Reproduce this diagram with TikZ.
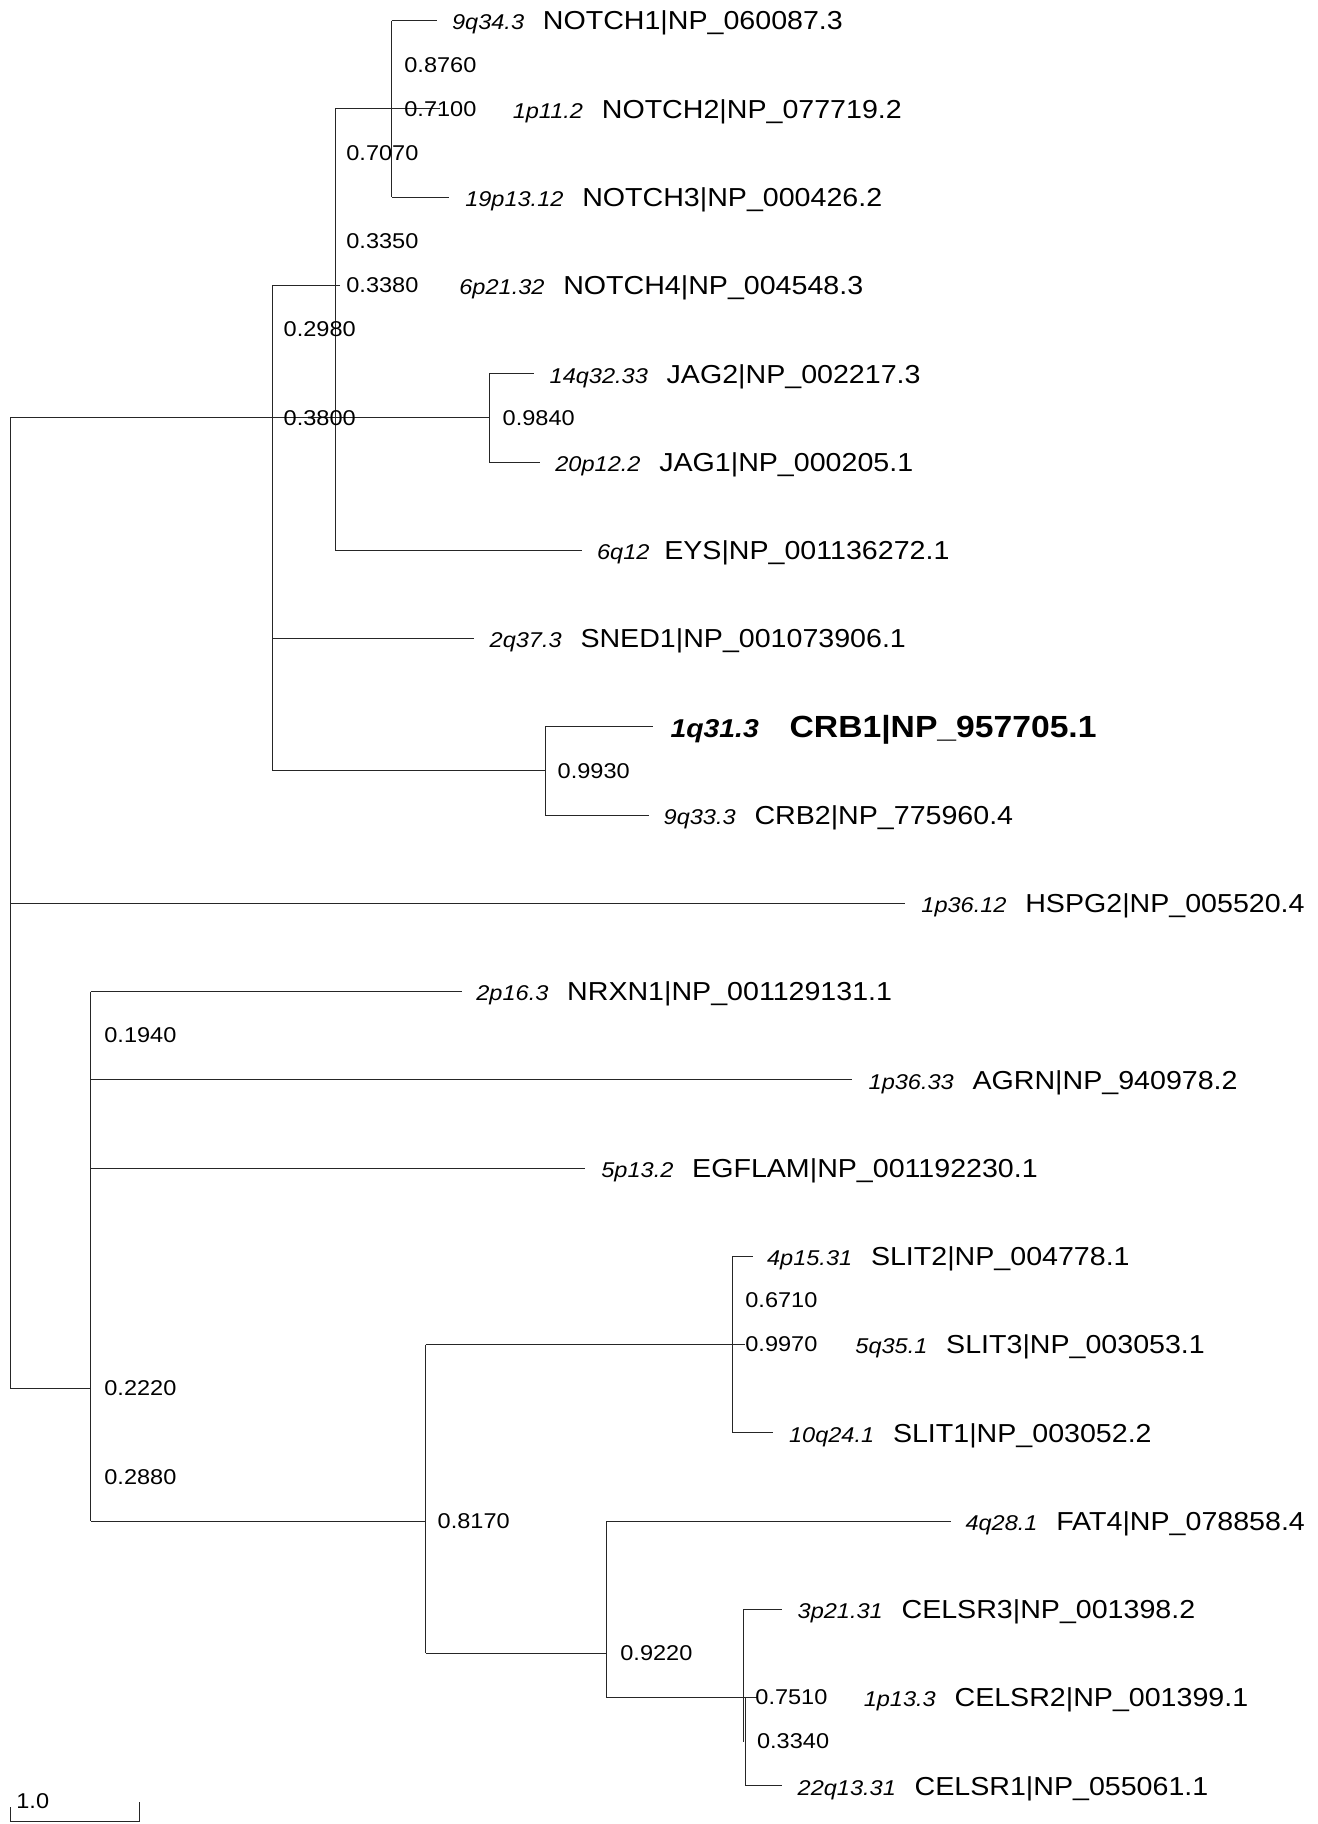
\documentclass[tikz,border=0pt]{standalone}
\usepackage{fontspec}
\setmainfont[FakeStretch=1.1]{Liberation Sans}
\usepackage{tikz}
\usetikzlibrary{positioning}

\begin{document}
\begin{tikzpicture}[
    x=0.5pt, y=-0.5pt,
    branch/.style={draw=black!85, line width=0.5pt},
    locus/.style={inner sep=0pt, anchor=base west, yshift=-4.65pt, font=\fontsize{10.7}{13}\selectfont\itshape},
    gene/.style={inner sep=0pt, font=\fontsize{13}{15}\selectfont},
    boot/.style={inner sep=0pt, anchor=west, font=\fontsize{10.7}{13}\selectfont}
]
    \useasboundingbox (0,0) rectangle (1317,1824);

    % inner nodes, top and bottom of each vertical
    \coordinate (rootT) at (10,417.8);       \coordinate (rootB) at (10,1388.6);
    \coordinate (notchAllT) at (272.7,285.5); \coordinate (notchAllB) at (272.7,770.8);
    \coordinate (notchEysT) at (335,109.0);   \coordinate (notchEysB) at (335,550.2);
    \coordinate (notchT) at (391.7,20.7);     \coordinate (notchB) at (391.7,197.2);
    \coordinate (jagT) at (489.3,373.7);      \coordinate (jagB) at (489.3,462.0);
    \coordinate (crbT) at (545,726.7);        \coordinate (crbB) at (545,815.0);
    \coordinate (lowT) at (90.7,991.5);       \coordinate (lowB) at (90.7,1521.0);
    \coordinate (slitFatT) at (425.7,1344.5); \coordinate (slitFatB) at (425.7,1653.3);
    \coordinate (slitT) at (732.7,1256.2);    \coordinate (slitB) at (732.7,1432.7);
    \coordinate (fatT) at (606.7,1521.0);     \coordinate (fatB) at (606.7,1697.5);
    \coordinate (celsrT) at (743,1609.2);     \coordinate (celsrB) at (743,1741.6);
    \coordinate (celsrlT) at (745.3,1697.5);  \coordinate (celsrlB) at (745.3,1785.7);

    \foreach \n in {root,notchAll,notchEys,notch,jag,crb,low,slitFat,slit,fat,celsr,celsrl}
        \draw[branch] (\n T) -- (\n B);

    \draw[branch] (rootT) -- (jagT |- rootT);
    \draw[branch] (notchAllB) -- (crbT |- notchAllB);
    \draw[branch] (rootB) -- (lowT |- rootB);
    \draw[branch] (lowB) -- (slitFatT |- lowB);
    \draw[branch] (slitFatB) -- (fatT |- slitFatB);

    % leaf tips
    \coordinate (tipNotch1) at (436.7,20.7);
    \coordinate (tipNotch2) at (440,109.0);
    \coordinate (tipNotch3) at (449.3,197.2);
    \coordinate (tipNotch4) at (340,285.5);
    \coordinate (tipJag2) at (534.3,373.7);
    \coordinate (tipJag1) at (540,462.0);
    \coordinate (tipEys) at (581.7,550.2);
    \coordinate (tipSned1) at (474.3,638.5);
    \coordinate (tipCrb1) at (652.7,726.7);
    \coordinate (tipCrb2) at (649.3,815.0);
    \coordinate (tipHspg2) at (905,903.2);
    \coordinate (tipNrxn1) at (462,991.5);
    \coordinate (tipAgrn) at (852.3,1079.7);
    \coordinate (tipEgflam) at (585,1168.0);
    \coordinate (tipSlit2) at (752.7,1256.2);
    \coordinate (tipSlit3) at (745,1344.5);
    \coordinate (tipSlit1) at (772.7,1432.7);
    \coordinate (tipFat4) at (950.7,1521.0);
    \coordinate (tipCelsr3) at (781.7,1609.2);
    \coordinate (tipCelsr2) at (757,1697.5);
    \coordinate (tipCelsr1) at (781.7,1785.7);

    \draw[branch] (notchT) -- (tipNotch1);
    \draw[branch] (notchEysT) -- (tipNotch2);
    \draw[branch] (notchB) -- (tipNotch3);
    \draw[branch] (notchAllT) -- (tipNotch4);
    \draw[branch] (jagT) -- (tipJag2);
    \draw[branch] (jagB) -- (tipJag1);
    \draw[branch] (notchEysB) -- (tipEys);
    \draw[branch] (tipSned1 -| notchAllT) -- (tipSned1);
    \draw[branch] (crbT) -- (tipCrb1);
    \draw[branch] (crbB) -- (tipCrb2);
    \draw[branch] (tipHspg2 -| rootT) -- (tipHspg2);
    \draw[branch] (lowT) -- (tipNrxn1);
    \draw[branch] (tipAgrn -| lowT) -- (tipAgrn);
    \draw[branch] (tipEgflam -| lowT) -- (tipEgflam);
    \draw[branch] (slitT) -- (tipSlit2);
    \draw[branch] (slitFatT) -- (tipSlit3);
    \draw[branch] (slitB) -- (tipSlit1);
    \draw[branch] (fatT) -- (tipFat4);
    \draw[branch] (celsrT) -- (tipCelsr3);
    \draw[branch] (fatB) -- (tipCelsr2);
    \draw[branch] (celsrlB) -- (tipCelsr1);

    % leaf labels
    \node[locus] (locNotch1) at ([xshift=7.5pt]tipNotch1) {9q34.3};
    \node[gene, base right=9pt of locNotch1] (geneNotch1) {NOTCH1|NP\_060087.3};
    \node[locus] (locNotch2) at ([xshift=36.2pt]tipNotch2) {1p11.2};
    \node[gene, base right=9pt of locNotch2] (geneNotch2) {NOTCH2|NP\_077719.2};
    \node[locus] (locNotch3) at ([xshift=7.8pt]tipNotch3) {19p13.12};
    \node[gene, base right=9pt of locNotch3] (geneNotch3) {NOTCH3|NP\_000426.2};
    \node[locus] (locNotch4) at ([xshift=59.5pt]tipNotch4) {6p21.32};
    \node[gene, base right=9pt of locNotch4] (geneNotch4) {NOTCH4|NP\_004548.3};
    \node[locus] (locJag2) at ([xshift=7.5pt]tipJag2) {14q32.33};
    \node[gene, base right=9pt of locJag2] (geneJag2) {JAG2|NP\_002217.3};
    \node[locus] (locJag1) at ([xshift=7.5pt]tipJag1) {20p12.2};
    \node[gene, base right=9pt of locJag1] (geneJag1) {JAG1|NP\_000205.1};
    \node[locus] (locEys) at ([xshift=7.5pt]tipEys) {6q12};
    \node[gene, base right=7pt of locEys] (geneEys) {EYS|NP\_001136272.1};
    \node[locus] (locSned1) at ([xshift=7.5pt]tipSned1) {2q37.3};
    \node[gene, base right=9pt of locSned1] (geneSned1) {SNED1|NP\_001073906.1};
    \node[locus, yshift=-0.85pt, font=\fontsize{12.9}{15}\selectfont\bfseries\itshape] (locCrb1) at ([xshift=8.7pt]tipCrb1) {1q31.3};
    \node[gene, base right=15pt of locCrb1, font=\fontsize{15.3}{18}\selectfont\bfseries] (geneCrb1) {CRB1|NP\_957705.1};
    \node[locus] (locCrb2) at ([xshift=7pt]tipCrb2) {9q33.3};
    \node[gene, base right=9pt of locCrb2] (geneCrb2) {CRB2|NP\_775960.4};
    \node[locus] (locHspg2) at ([xshift=8pt]tipHspg2) {1p36.12};
    \node[gene, base right=9pt of locHspg2] (geneHspg2) {HSPG2|NP\_005520.4};
    \node[locus] (locNrxn1) at ([xshift=7pt]tipNrxn1) {2p16.3};
    \node[gene, base right=9pt of locNrxn1] (geneNrxn1) {NRXN1|NP\_001129131.1};
    \node[locus] (locAgrn) at ([xshift=8pt]tipAgrn) {1p36.33};
    \node[gene, base right=9pt of locAgrn] (geneAgrn) {AGRN|NP\_940978.2};
    \node[locus] (locEgflam) at ([xshift=8pt]tipEgflam) {5p13.2};
    \node[gene, base right=9pt of locEgflam] (geneEgflam) {EGFLAM|NP\_001192230.1};
    \node[locus] (locSlit2) at ([xshift=7pt]tipSlit2) {4p15.31};
    \node[gene, base right=9pt of locSlit2] (geneSlit2) {SLIT2|NP\_004778.1};
    \node[locus] (locSlit3) at ([xshift=55pt]tipSlit3) {5q35.1};
    \node[gene, base right=9pt of locSlit3] (geneSlit3) {SLIT3|NP\_003053.1};
    \node[locus] (locSlit1) at ([xshift=8pt]tipSlit1) {10q24.1};
    \node[gene, base right=9pt of locSlit1] (geneSlit1) {SLIT1|NP\_003052.2};
    \node[locus] (locFat4) at ([xshift=7.2pt]tipFat4) {4q28.1};
    \node[gene, base right=9pt of locFat4] (geneFat4) {FAT4|NP\_078858.4};
    \node[locus] (locCelsr3) at ([xshift=7.8pt]tipCelsr3) {3p21.31};
    \node[gene, base right=9pt of locCelsr3] (geneCelsr3) {CELSR3|NP\_001398.2};
    \node[locus] (locCelsr2) at ([xshift=53.2pt]tipCelsr2) {1p13.3};
    \node[gene, base right=9pt of locCelsr2] (geneCelsr2) {CELSR2|NP\_001399.1};
    \node[locus] (locCelsr1) at ([xshift=7.8pt]tipCelsr1) {22q13.31};
    \node[gene, base right=9pt of locCelsr1] (geneCelsr1) {CELSR1|NP\_055061.1};

    % support values
    \node[boot] (b8760) at (404,64.8) {0.8760};
    \node[boot] (b7100) at (404,109.0) {0.7100};
    \node[boot] (b7070) at (346,153.1) {0.7070};
    \node[boot] (b3350) at (346,241.3) {0.3350};
    \node[boot] (b3380) at (346,285.5) {0.3380};
    \node[boot] (b2980) at (283.3,329.6) {0.2980};
    \node[boot] (b3800) at (283.3,417.8) {0.3800};
    \node[boot] (b9840) at (502.3,417.8) {0.9840};
    \node[boot] (b9930) at (557.3,770.8) {0.9930};
    \node[boot] (b1940) at (104,1035.6) {0.1940};
    \node[boot] (b6710) at (745,1300.3) {0.6710};
    \node[boot] (b9970) at (745,1344.5) {0.9970};
    \node[boot] (b2220) at (104,1388.6) {0.2220};
    \node[boot] (b2880) at (104,1476.8) {0.2880};
    \node[boot] (b8170) at (437.3,1521.0) {0.8170};
    \node[boot] (b9220) at (620,1653.3) {0.9220};
    \node[boot] (b7510) at (755,1697.5) {0.7510};
    \node[boot] (b3340) at (756.7,1741.6) {0.3340};

    % scale bar
    \coordinate (barL) at (10,1821.7);
    \coordinate (barR) at (139.3,1821.7);
    \draw[branch] (barL) -- (barR);
    \draw[branch] (barL) -- ++(0,-15);
    \draw[branch] (barR) -- ++(0,-20);
    \node[boot, anchor=base west] (barText) at (16,1808) {1.0};
\end{tikzpicture}
\end{document}
